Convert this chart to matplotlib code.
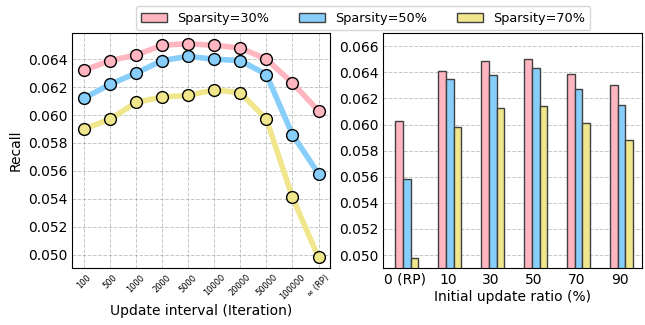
import matplotlib.pyplot as plt
import numpy as np

# left: update interval
intervals = ['100', '500', '1000', '2000', '5000', '10000', '20000', '50000', '100000', '∞ (RP)']
recall_30 = [0.0632, 0.0639, 0.0643, 0.0650, 0.0651, 0.0650, 0.0648, 0.0640, 0.0623, 0.0603]
recall_50 = [0.0612, 0.0622, 0.0630, 0.0639, 0.0642, 0.0640, 0.0639, 0.0629, 0.0586, 0.0558]
recall_70 = [0.0590, 0.0597, 0.0609, 0.0613, 0.0614, 0.0618, 0.0616, 0.0597, 0.0541, 0.0498]

# right: initial update ratio
ratios = ['0 (RP)', '10', '30', '50', '70', '90']
ratio_30 = [0.0603, 0.0641, 0.0649, 0.0650, 0.0639, 0.0630]
ratio_50 = [0.0558, 0.0635, 0.0638, 0.0643, 0.0627, 0.0615]
ratio_70 = [0.0498, 0.0598, 0.0613, 0.0614, 0.0601, 0.0588]

labels = ['Sparsity=30%', 'Sparsity=50%', 'Sparsity=70%']
colors = ['#FFB6C1', '#87CEFA', '#F0E68C']

fig = plt.figure(figsize=(6.45, 3.25), dpi=100)
ax1 = fig.add_axes([0.112, 0.175, 0.400, 0.723])
ax2 = fig.add_axes([0.594, 0.175, 0.401, 0.723])

x = np.arange(len(intervals))
for ys, c in zip([recall_30, recall_50, recall_70], colors):
    ax1.plot(x, ys, color=c, lw=4, marker='o', markersize=8.5,
             markerfacecolor=c, markeredgecolor='black', markeredgewidth=1)
ax1.set_xticks(x)
ax1.set_xticklabels(intervals, rotation=45, fontsize=6)
ax1.set_yticks(np.arange(0.050, 0.0641, 0.002))
ax1.yaxis.set_major_formatter(plt.FormatStrFormatter('%.3f'))
ax1.tick_params(axis='y', labelsize=10)
ax1.tick_params(length=0)
ax1.grid(True, linestyle='--', color='gray', alpha=0.45, lw=0.7)
ax1.set_ylabel('Recall', fontsize=10)
ax1.set_xlabel('Update interval (Iteration)', fontsize=10, labelpad=2)

xr = np.arange(len(ratios))
w = 0.18
handles = []
for i, (ys, c, lb) in enumerate(zip([ratio_30, ratio_50, ratio_70], colors, labels)):
    b = ax2.bar(xr + (i - 1) * w + 0.04, ys, width=w, color=c, edgecolor='0.25',
                linewidth=1, label=lb)
    handles.append(b)
ax2.set_xticks(xr)
ax2.set_xticklabels(ratios, fontsize=10)
ax2.set_xlim(-0.51, 5.51)
ax2.set_ylim(0.049, 0.067)
ax2.set_yticks(np.arange(0.050, 0.0661, 0.002))
ax2.yaxis.set_major_formatter(plt.FormatStrFormatter('%.3f'))
ax2.tick_params(axis='y', labelsize=10)
ax2.tick_params(length=0)
ax2.grid(True, axis='y', linestyle='--', color='gray', alpha=0.45, lw=0.7)
ax2.set_axisbelow(True)
ax2.set_xlabel('Initial update ratio (%)', fontsize=10, labelpad=2)

fig.legend(handles, labels, loc='upper center', ncol=3, fontsize=9.3,
           bbox_to_anchor=(0.563, 1.0), handlelength=2.0, columnspacing=2.3)

fig.savefig('out.png')
